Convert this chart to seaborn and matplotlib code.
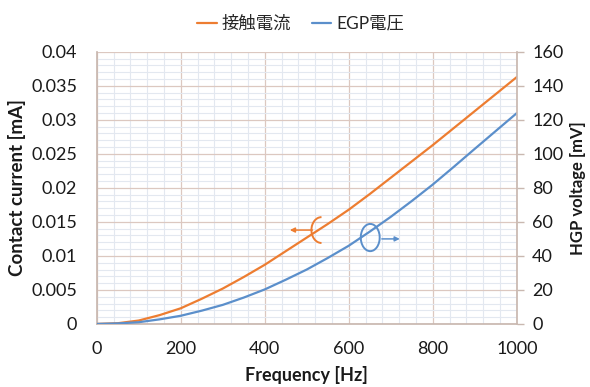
#!/usr/bin/env python3
# -*- coding: utf-8 -*-
"""
Contact current / HGP voltage vs frequency (dual axis line chart).
"""

import pandas as pd
import matplotlib
matplotlib.use("Agg")
import matplotlib.pyplot as plt
from matplotlib.patches import Arc
from matplotlib.ticker import MultipleLocator, FuncFormatter
import seaborn as sns


# values
FREQ = [0, 50, 100, 150, 200, 250, 300, 350, 400, 450, 500,
        550, 600, 650, 700, 750, 800, 850, 900, 950, 1000]
CURRENT_MA = [0.0, 0.0001, 0.0005, 0.0013, 0.0023, 0.0037, 0.0052, 0.0069,
              0.0087, 0.0107, 0.0127, 0.0147, 0.0168, 0.0191, 0.0215,
              0.0239, 0.0263, 0.0288, 0.0313, 0.0338, 0.0363]
VOLTAGE_MV = [0.0, 0.3, 1.0, 2.7, 4.8, 7.8, 11.2, 15.5, 20.3, 26.0, 32.0,
              38.8, 46.0, 54.3, 63.0, 72.3, 82.0, 92.4, 103.0, 113.5, 124.0]

LABEL_CURRENT = "接触電流"
LABEL_VOLTAGE = "EGP電圧"

ORANGE = "#ED7D31"
BLUE = "#5B8FCB"
MAJOR_GRID = "#dcc8c0"
MINOR_GRID = "#e3e8f0"
SPINE = "#c9b8b0"
TEXT = "#1a1a1a"


def main():
    sns.set_theme(style="white")
    plt.rcParams["font.family"] = ["Lato", "Noto Sans CJK JP", "DejaVu Sans"]

    df = pd.DataFrame({"freq": FREQ, "current": CURRENT_MA,
                       "voltage": VOLTAGE_MV})

    fig = plt.figure(figsize=(5.9, 3.87), dpi=100)
    ax = fig.add_axes([0.164, 0.163, 0.712, 0.703])
    ax2 = ax.twinx()

    sns.lineplot(data=df, x="freq", y="current", ax=ax, color=ORANGE,
                 linewidth=1.6, label=LABEL_CURRENT, legend=False)
    sns.lineplot(data=df, x="freq", y="voltage", ax=ax2, color=BLUE,
                 linewidth=1.6, label=LABEL_VOLTAGE, legend=False)

    ax.set_xlim(0, 1000)
    ax.set_ylim(0, 0.04)
    ax2.set_ylim(0, 160)

    ax.xaxis.set_major_locator(MultipleLocator(200))
    ax.xaxis.set_minor_locator(MultipleLocator(40))
    ax.yaxis.set_major_locator(MultipleLocator(0.005))
    ax.yaxis.set_minor_locator(MultipleLocator(0.001))
    ax.yaxis.set_major_formatter(FuncFormatter(lambda v, p: f"{round(v, 4):g}"))
    ax2.yaxis.set_major_locator(MultipleLocator(20))

    ax.grid(which="minor", color=MINOR_GRID, linewidth=0.8)
    ax.grid(which="major", color=MAJOR_GRID, linewidth=0.9)
    ax.set_axisbelow(True)
    ax2.grid(False)

    for a in (ax, ax2):
        for s in a.spines.values():
            s.set_visible(False)
    ax.spines["bottom"].set_visible(True)
    ax.spines["bottom"].set_color(SPINE)
    ax.spines["left"].set_visible(True)
    ax.spines["left"].set_color(SPINE)
    ax2.spines["right"].set_visible(True)
    ax2.spines["right"].set_color(SPINE)

    ax.tick_params(axis="both", which="both", length=0, labelsize=13,
                   colors=TEXT)
    ax.tick_params(axis="y", pad=14)
    ax.tick_params(axis="x", pad=12)
    ax2.tick_params(axis="y", which="major", length=5, width=1,
                    color=SPINE, labelsize=13, labelcolor=TEXT, pad=6,
                    right=True)

    ax.set_xlabel("Frequency [Hz]", fontsize=13, fontweight="bold",
                  labelpad=7, color=TEXT)
    ax.set_ylabel("Contact current [mA]", fontsize=13.5, fontweight="bold",
                  labelpad=4, color=TEXT)
    ax2.set_ylabel("HGP voltage [mV]", fontsize=12, fontweight="bold",
                   color=TEXT)
    ax2.yaxis.set_label_coords(1.127, 0.5)

    # curved-arrow markers showing which axis each curve uses
    ax.add_patch(Arc((535, 0.0138), 48, 0.0038, theta1=40, theta2=330,
                     color=ORANGE, linewidth=1.4))
    ax.annotate("", xy=(453, 0.0138), xytext=(520, 0.0138),
                arrowprops=dict(arrowstyle="-|>", color=ORANGE, lw=1.1,
                                mutation_scale=7))
    ax.add_patch(Arc((651, 0.0127), 45, 0.004, theta1=110, theta2=420,
                     color=BLUE, linewidth=1.4))
    ax.annotate("", xy=(728, 0.0125), xytext=(672, 0.0125),
                arrowprops=dict(arrowstyle="-|>", color=BLUE, lw=1.1,
                                mutation_scale=7))

    h1, l1 = ax.get_legend_handles_labels()
    h2, l2 = ax2.get_legend_handles_labels()
    fig.legend(h1 + h2, l1 + l2, loc="upper center",
               bbox_to_anchor=(0.51, 1.0), ncol=2, frameon=False,
               handlelength=1.1, handletextpad=0.3, columnspacing=1.2,
               prop={"family": ["Lato", "Noto Sans CJK JP"], "size": 12.5})

    fig.savefig("out.png", dpi=100)
    plt.close(fig)


if __name__ == "__main__":
    main()
